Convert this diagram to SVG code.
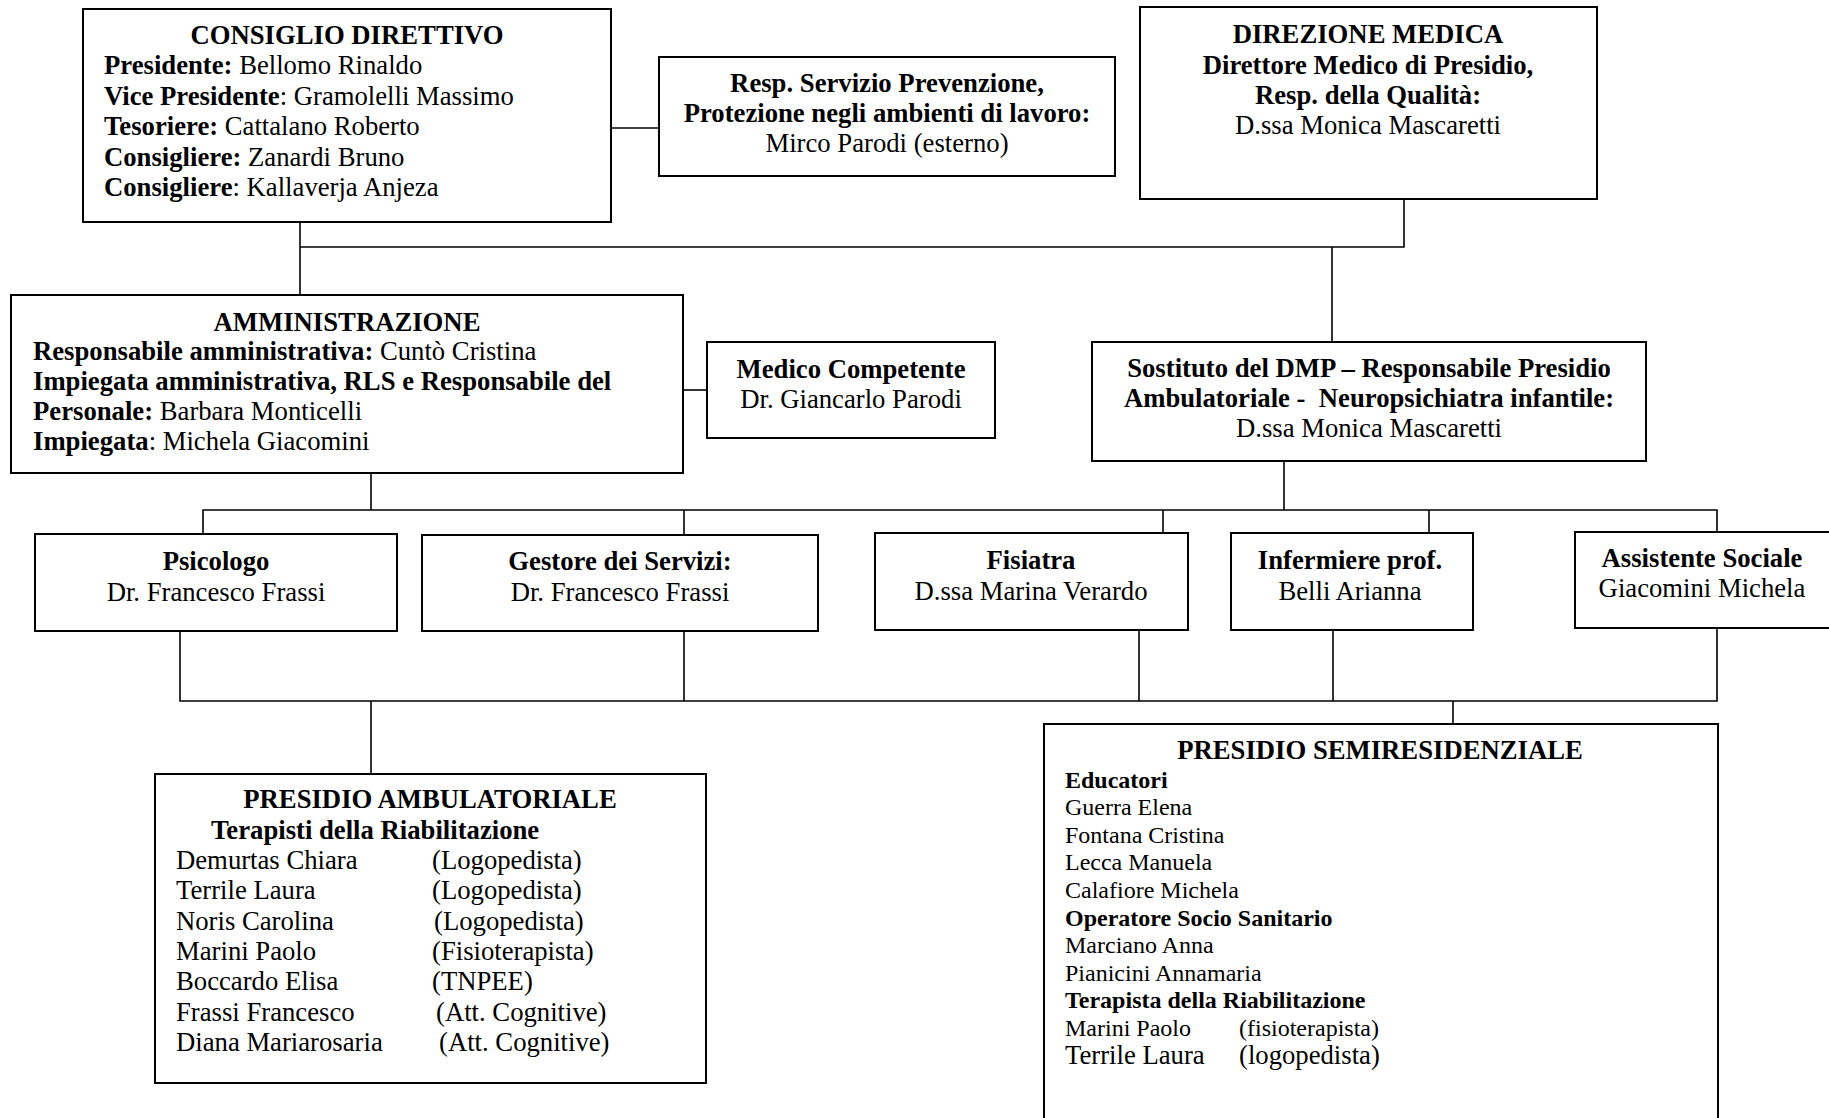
<svg xmlns="http://www.w3.org/2000/svg" width="1829" height="1118" viewBox="0 0 1829 1118">
<style>
.box{fill:#fff;stroke:#000;stroke-width:2}
.c{fill:none;stroke:#000;stroke-width:1.6}
text{font-family:"Liberation Serif","Times New Roman",serif;font-size:26.7px;fill:#000}
.b{font-weight:bold}
.m{text-anchor:middle}
.s{font-size:24px}
</style>
<rect x="0" y="0" width="1829" height="1118" fill="#fff"/>
<g id="connectors">
<path class="c" d="M611,128H659"/>
<path class="c" d="M300,222V295"/>
<path class="c" d="M300,247H1404V199"/>
<path class="c" d="M1332,247V342"/>
<path class="c" d="M683,390H707"/>
<path class="c" d="M371,473V510"/>
<path class="c" d="M1284,461V510"/>
<path class="c" d="M203,534V510H1717V532"/>
<path class="c" d="M684,510V535"/>
<path class="c" d="M1163,510V533"/>
<path class="c" d="M1429,510V533"/>
<path class="c" d="M180,631V701H1717V628"/>
<path class="c" d="M684,631V701"/>
<path class="c" d="M1139,630V701"/>
<path class="c" d="M1333,630V701"/>
<path class="c" d="M371,701V774"/>
<path class="c" d="M1453,701V724"/>
</g>
<g id="consiglio">
<rect class="box" x="83" y="9" width="528" height="213"/>
<text class="b m" x="347" y="44">CONSIGLIO DIRETTIVO</text>
<text x="104" y="74"><tspan class="b">Presidente:</tspan> Bellomo Rinaldo</text>
<text x="104" y="104.5"><tspan class="b">Vice Presidente</tspan>: Gramolelli Massimo</text>
<text x="104" y="135"><tspan class="b">Tesoriere:</tspan> Cattalano Roberto</text>
<text x="104" y="165.5"><tspan class="b">Consigliere:</tspan> Zanardi Bruno</text>
<text x="104" y="196"><tspan class="b">Consigliere</tspan>: Kallaverja Anjeza</text>
</g>
<g id="resp">
<rect class="box" x="659" y="57" width="456" height="119"/>
<text class="b m" x="887" y="92">Resp. Servizio Prevenzione,</text>
<text class="b m" x="887" y="122">Protezione negli ambienti di lavoro:</text>
<text class="m" x="887" y="152">Mirco Parodi (esterno)</text>
</g>
<g id="direzione">
<rect class="box" x="1140" y="7" width="457" height="192"/>
<text class="b m" x="1368" y="43">DIREZIONE MEDICA</text>
<text class="b m" x="1368" y="74">Direttore Medico di Presidio,</text>
<text class="b m" x="1368" y="104">Resp. della Qualità:</text>
<text class="m" x="1368" y="134">D.ssa Monica Mascaretti</text>
</g>
<g id="amministrazione">
<rect class="box" x="11" y="295" width="672" height="178"/>
<text class="b m" x="347" y="331">AMMINISTRAZIONE</text>
<text x="33" y="360"><tspan class="b">Responsabile amministrativa:</tspan> Cuntò Cristina</text>
<text class="b" x="33" y="390">Impiegata amministrativa, RLS e Responsabile del</text>
<text x="33" y="420"><tspan class="b">Personale:</tspan> Barbara Monticelli</text>
<text x="33" y="450"><tspan class="b">Impiegata</tspan>: Michela Giacomini</text>
</g>
<g id="medico">
<rect class="box" x="707" y="342" width="288" height="96"/>
<text class="b m" x="851" y="378">Medico Competente</text>
<text class="m" x="851" y="408">Dr. Giancarlo Parodi</text>
</g>
<g id="sostituto">
<rect class="box" x="1092" y="342" width="554" height="119"/>
<text class="b m" x="1369" y="377">Sostituto del DMP – Responsabile Presidio</text>
<text class="b m" x="1369" y="407" style="white-space:pre">Ambulatoriale -  Neuropsichiatra infantile:</text>
<text class="m" x="1369" y="437">D.ssa Monica Mascaretti</text>
</g>
<g id="psicologo">
<rect class="box" x="35" y="534" width="362" height="97"/>
<text class="b m" x="216" y="570">Psicologo</text>
<text class="m" x="216" y="601">Dr. Francesco Frassi</text>
</g>
<g id="gestore">
<rect class="box" x="422" y="535" width="396" height="96"/>
<text class="b m" x="620" y="570">Gestore dei Servizi:</text>
<text class="m" x="620" y="601">Dr. Francesco Frassi</text>
</g>
<g id="fisiatra">
<rect class="box" x="875" y="533" width="313" height="97"/>
<text class="b m" x="1031" y="569">Fisiatra</text>
<text class="m" x="1031" y="600">D.ssa Marina Verardo</text>
</g>
<g id="infermiere">
<rect class="box" x="1231" y="533" width="242" height="97"/>
<text class="b m" x="1350" y="569">Infermiere prof.</text>
<text class="m" x="1350" y="600">Belli Arianna</text>
</g>
<g id="assistente">
<rect class="box" x="1575" y="532" width="260" height="96"/>
<text class="b m" x="1702" y="567">Assistente Sociale</text>
<text class="m" x="1702" y="597">Giacomini Michela</text>
</g>
<g id="ambulatoriale">
<rect class="box" x="155" y="774" width="551" height="309"/>
<text class="b m" x="430" y="808">PRESIDIO AMBULATORIALE</text>
<text class="b" x="211" y="839">Terapisti della Riabilitazione</text>
<text x="176" y="869">Demurtas Chiara</text><text x="432" y="869">(Logopedista)</text>
<text x="176" y="899">Terrile Laura</text><text x="432" y="899">(Logopedista)</text>
<text x="176" y="930">Noris Carolina</text><text x="434" y="930">(Logopedista)</text>
<text x="176" y="960">Marini Paolo</text><text x="432" y="960">(Fisioterapista)</text>
<text x="176" y="990">Boccardo Elisa</text><text x="432" y="990">(TNPEE)</text>
<text x="176" y="1021">Frassi Francesco</text><text x="436" y="1021">(Att. Cognitive)</text>
<text x="176" y="1051">Diana Mariarosaria</text><text x="439" y="1051">(Att. Cognitive)</text>
</g>
<g id="semiresidenziale">
<rect class="box" x="1044" y="724" width="674" height="400"/>
<text class="b m" x="1380" y="759">PRESIDIO SEMIRESIDENZIALE</text>
<text class="b s" x="1065" y="788">Educatori</text>
<text class="s" x="1065" y="815">Guerra Elena</text>
<text class="s" x="1065" y="843">Fontana Cristina</text>
<text class="s" x="1065" y="870">Lecca Manuela</text>
<text class="s" x="1065" y="898">Calafiore Michela</text>
<text class="b s" x="1065" y="926">Operatore Socio Sanitario</text>
<text class="s" x="1065" y="953">Marciano Anna</text>
<text class="s" x="1065" y="981">Pianicini Annamaria</text>
<text class="b s" x="1065" y="1008">Terapista della Riabilitazione</text>
<text class="s" x="1065" y="1036">Marini Paolo</text><text class="s" x="1239" y="1036">(fisioterapista)</text>
<text x="1065" y="1064">Terrile Laura</text><text x="1239" y="1064">(logopedista)</text>
</g>
</svg>
